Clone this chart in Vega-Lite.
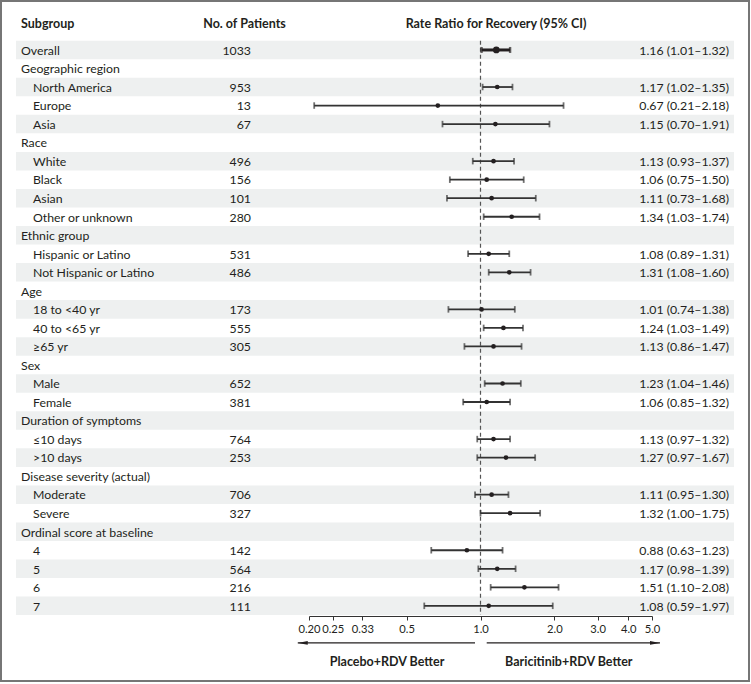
{
  "$schema": "https://vega.github.io/schema/vega-lite/v6.json",
  "background": "#767676",
  "padding": {"left": 2, "top": 2, "right": 2, "bottom": 2},
  "spacing": 0,
  "bounds": "flush",
  "config": {
    "view": {"fill": "white", "stroke": null},
    "text": {"font": "Lato", "fontSize": 12.3, "color": "#231f20"},
    "axis": {"offset": -64, "title": null, "grid": false,
             "labelExpr": "datum.value == 0.2 ? '0.20\u00a0' : datum.value == 0.25 ? '\u00a00.25' : datum.value == 0.33 ? '0.33' : datum.value == 0.5 ? '0.5' : format(datum.value, '.1f')",
             "labelFont": "Lato", "labelFontSize": 11.2, "labelColor": "#231f20", "labelPadding": 3,
             "domainColor": "#333333", "tickColor": "#333333", "tickSize": 4, "domainWidth": 1, "tickWidth": 1,
             "labelFlush": false, "labelOverlap": false}
  },
  "datasets": {
    "rows": [
      {"i": 0, "label": "Overall", "level": 0, "n": 1033, "est": 1.16, "lo": 1.01, "hi": 1.32, "ci": "1.16 (1.01–1.32)"},
      {"i": 1, "label": "Geographic region", "level": 0},
      {"i": 2, "label": "North America", "level": 1, "n": 953, "est": 1.17, "lo": 1.02, "hi": 1.35, "ci": "1.17 (1.02–1.35)"},
      {"i": 3, "label": "Europe", "level": 1, "n": 13, "est": 0.67, "lo": 0.21, "hi": 2.18, "ci": "0.67 (0.21–2.18)"},
      {"i": 4, "label": "Asia", "level": 1, "n": 67, "est": 1.15, "lo": 0.70, "hi": 1.91, "ci": "1.15 (0.70–1.91)"},
      {"i": 5, "label": "Race", "level": 0},
      {"i": 6, "label": "White", "level": 1, "n": 496, "est": 1.13, "lo": 0.93, "hi": 1.37, "ci": "1.13 (0.93–1.37)"},
      {"i": 7, "label": "Black", "level": 1, "n": 156, "est": 1.06, "lo": 0.75, "hi": 1.50, "ci": "1.06 (0.75–1.50)"},
      {"i": 8, "label": "Asian", "level": 1, "n": 101, "est": 1.11, "lo": 0.73, "hi": 1.68, "ci": "1.11 (0.73–1.68)"},
      {"i": 9, "label": "Other or unknown", "level": 1, "n": 280, "est": 1.34, "lo": 1.03, "hi": 1.74, "ci": "1.34 (1.03–1.74)"},
      {"i": 10, "label": "Ethnic group", "level": 0},
      {"i": 11, "label": "Hispanic or Latino", "level": 1, "n": 531, "est": 1.08, "lo": 0.89, "hi": 1.31, "ci": "1.08 (0.89–1.31)"},
      {"i": 12, "label": "Not Hispanic or Latino", "level": 1, "n": 486, "est": 1.31, "lo": 1.08, "hi": 1.60, "ci": "1.31 (1.08–1.60)"},
      {"i": 13, "label": "Age", "level": 0},
      {"i": 14, "label": "18 to <40 yr", "level": 1, "n": 173, "est": 1.01, "lo": 0.74, "hi": 1.38, "ci": "1.01 (0.74–1.38)"},
      {"i": 15, "label": "40 to <65 yr", "level": 1, "n": 555, "est": 1.24, "lo": 1.03, "hi": 1.49, "ci": "1.24 (1.03–1.49)"},
      {"i": 16, "label": "≥65 yr", "level": 1, "n": 305, "est": 1.13, "lo": 0.86, "hi": 1.47, "ci": "1.13 (0.86–1.47)"},
      {"i": 17, "label": "Sex", "level": 0},
      {"i": 18, "label": "Male", "level": 1, "n": 652, "est": 1.23, "lo": 1.04, "hi": 1.46, "ci": "1.23 (1.04–1.46)"},
      {"i": 19, "label": "Female", "level": 1, "n": 381, "est": 1.06, "lo": 0.85, "hi": 1.32, "ci": "1.06 (0.85–1.32)"},
      {"i": 20, "label": "Duration of symptoms", "level": 0},
      {"i": 21, "label": "≤10 days", "level": 1, "n": 764, "est": 1.13, "lo": 0.97, "hi": 1.32, "ci": "1.13 (0.97–1.32)"},
      {"i": 22, "label": ">10 days", "level": 1, "n": 253, "est": 1.27, "lo": 0.97, "hi": 1.67, "ci": "1.27 (0.97–1.67)"},
      {"i": 23, "label": "Disease severity (actual)", "level": 0},
      {"i": 24, "label": "Moderate", "level": 1, "n": 706, "est": 1.11, "lo": 0.95, "hi": 1.30, "ci": "1.11 (0.95–1.30)"},
      {"i": 25, "label": "Severe", "level": 1, "n": 327, "est": 1.32, "lo": 1.00, "hi": 1.75, "ci": "1.32 (1.00–1.75)"},
      {"i": 26, "label": "Ordinal score at baseline", "level": 0},
      {"i": 27, "label": "4", "level": 1, "n": 142, "est": 0.88, "lo": 0.63, "hi": 1.23, "ci": "0.88 (0.63–1.23)"},
      {"i": 28, "label": "5", "level": 1, "n": 564, "est": 1.17, "lo": 0.98, "hi": 1.39, "ci": "1.17 (0.98–1.39)"},
      {"i": 29, "label": "6", "level": 1, "n": 216, "est": 1.51, "lo": 1.10, "hi": 2.08, "ci": "1.51 (1.10–2.08)"},
      {"i": 30, "label": "7", "level": 1, "n": 111, "est": 1.08, "lo": 0.59, "hi": 1.97, "ci": "1.08 (0.59–1.97)"}
    ],
    "directions": [
      {"label": "Placebo+RDV Better", "start": 0.95, "end": 0.18, "labelAt": 0.416, "side": "left"},
      {"label": "Baricitinib+RDV Better", "start": 1.06, "end": 5.39, "labelAt": 2.29, "side": "right"}
    ]
  },
  "hconcat": [
    {
      "width": 14, "height": 678,
      "data": {"values": [{}]},
      "mark": {"type": "rect", "color": "white"},
      "encoding": {}
    },
    {
      "width": 179, "height": 678,
      "data": {"name": "rows"},
      "encoding": {
        "y": {"field": "i", "type": "ordinal", "axis": null,
              "scale": {"type": "band", "domain": [-2,-1,0,1,2,3,4,5,6,7,8,9,10,11,12,13,14,15,16,17,18,19,20,21,22,23,24,25,26,27,28,29,30,31,32,33], "range": [1.64, 668.7], "paddingInner": 0, "paddingOuter": 0}}
      },
      "layer": [
        {"transform": [{"filter": "datum.i % 2 == 0"}], "mark": {"type": "rect", "color": "#eef0f0"}},
        {"transform": [{"filter": "datum.level == 0"}],
         "mark": {"type": "text", "align": "left", "baseline": "middle", "dx": 5, "dy": 0.8},
         "encoding": {"x": {"datum": 0, "type": "quantitative", "scale": {"domain": [0, 1]}, "axis": null}, "text": {"field": "label"}}},
        {"transform": [{"filter": "datum.level == 1"}],
         "mark": {"type": "text", "align": "left", "baseline": "middle", "dx": 17, "dy": 0.8},
         "encoding": {"x": {"datum": 0, "type": "quantitative", "scale": {"domain": [0, 1]}, "axis": null}, "text": {"field": "label"}}},
        {"data": {"values": [{"h": "Subgroup"}]},
         "mark": {"type": "text", "align": "left", "baseline": "middle", "dx": 5, "dy": 1.5, "fontWeight": "bold", "fontSize": 12.5},
         "encoding": {
           "x": {"datum": 0, "type": "quantitative", "scale": {"domain": [0, 1]}, "axis": null},
           "y": {"datum": -1, "type": "ordinal", "bandPosition": 0, "axis": null,
                 "scale": {"type": "band", "domain": [-2,-1,0,1,2,3,4,5,6,7,8,9,10,11,12,13,14,15,16,17,18,19,20,21,22,23,24,25,26,27,28,29,30,31,32,33], "range": [1.64, 668.7], "paddingInner": 0, "paddingOuter": 0}},
           "text": {"field": "h"}}}
      ]
    },
    {
      "width": 99, "height": 678,
      "data": {"name": "rows"},
      "encoding": {
        "y": {"field": "i", "type": "ordinal", "axis": null,
              "scale": {"type": "band", "domain": [-2,-1,0,1,2,3,4,5,6,7,8,9,10,11,12,13,14,15,16,17,18,19,20,21,22,23,24,25,26,27,28,29,30,31,32,33], "range": [1.64, 668.7], "paddingInner": 0, "paddingOuter": 0}}
      },
      "layer": [
        {"transform": [{"filter": "datum.i % 2 == 0"}], "mark": {"type": "rect", "color": "#eef0f0"}},
        {"transform": [{"filter": "isValid(datum.n)"}],
         "mark": {"type": "text", "align": "right", "baseline": "middle", "dx": 6.5, "dy": 0.8},
         "encoding": {"text": {"field": "n"}}},
        {"data": {"values": [{"h": "No. of Patients"}]},
         "mark": {"type": "text", "align": "center", "baseline": "middle", "dy": 1.5, "fontWeight": "bold", "fontSize": 12.5},
         "encoding": {
           "y": {"datum": -1, "type": "ordinal", "bandPosition": 0, "axis": null,
                 "scale": {"type": "band", "domain": [-2,-1,0,1,2,3,4,5,6,7,8,9,10,11,12,13,14,15,16,17,18,19,20,21,22,23,24,25,26,27,28,29,30,31,32,33], "range": [1.64, 668.7], "paddingInner": 0, "paddingOuter": 0}},
           "text": {"field": "h"}}}
      ]
    },
    {
      "width": 368, "height": 678,
      "data": {"name": "rows"},
      "encoding": {
        "y": {"field": "i", "type": "ordinal", "axis": null,
              "scale": {"type": "band", "domain": [-2,-1,0,1,2,3,4,5,6,7,8,9,10,11,12,13,14,15,16,17,18,19,20,21,22,23,24,25,26,27,28,29,30,31,32,33], "range": [1.64, 668.7], "paddingInner": 0, "paddingOuter": 0}}
      },
      "layer": [
        {"transform": [{"filter": "datum.i % 2 == 0"}], "mark": {"type": "rect", "color": "#eef0f0"}},
        {"data": {"values": [{"ref": 1}]},
         "mark": {"type": "rule", "strokeDash": [4, 3], "color": "#555555", "strokeWidth": 1.2},
         "encoding": {
           "x": {"field": "ref", "type": "quantitative", "scale": {"type": "log", "domain": [0.2, 5], "range": [15, 358], "nice": false}, "axis": {"values": [0.2, 0.25, 0.33, 0.5, 1, 2, 3, 4, 5]}},
           "y": {"datum": 0, "type": "ordinal", "bandPosition": 0},
           "y2": {"datum": 30, "bandPosition": 1}}},
        {"transform": [{"filter": "isValid(datum.lo) && datum.i > 0"}],
         "mark": {"type": "rule", "color": "#333333", "strokeWidth": 1.8},
         "encoding": {
           "x": {"field": "lo", "type": "quantitative", "scale": {"type": "log", "domain": [0.2, 5], "range": [15, 358], "nice": false}, "axis": {"values": [0.2, 0.25, 0.33, 0.5, 1, 2, 3, 4, 5]}},
           "x2": {"field": "hi"}}},
        {"transform": [{"filter": "datum.i == 0"}],
         "mark": {"type": "rule", "color": "#231f20", "strokeWidth": 3},
         "encoding": {
           "x": {"field": "lo", "type": "quantitative", "scale": {"type": "log", "domain": [0.2, 5], "range": [15, 358], "nice": false}, "axis": {"values": [0.2, 0.25, 0.33, 0.5, 1, 2, 3, 4, 5]}},
           "x2": {"field": "hi"}}},
        {"transform": [{"filter": "isValid(datum.lo) && datum.i > 0"}],
         "mark": {"type": "tick", "color": "#333333", "size": 6.5, "thickness": 1.8},
         "encoding": {"x": {"field": "lo", "type": "quantitative", "scale": {"type": "log", "domain": [0.2, 5], "range": [15, 358], "nice": false}, "axis": {"values": [0.2, 0.25, 0.33, 0.5, 1, 2, 3, 4, 5]}}}},
        {"transform": [{"filter": "isValid(datum.hi) && datum.i > 0"}],
         "mark": {"type": "tick", "color": "#333333", "size": 6.5, "thickness": 1.8},
         "encoding": {"x": {"field": "hi", "type": "quantitative", "scale": {"type": "log", "domain": [0.2, 5], "range": [15, 358], "nice": false}, "axis": {"values": [0.2, 0.25, 0.33, 0.5, 1, 2, 3, 4, 5]}}}},
        {"transform": [{"filter": "datum.i == 0"}],
         "mark": {"type": "tick", "color": "#231f20", "size": 6, "thickness": 2.4},
         "encoding": {"x": {"field": "lo", "type": "quantitative", "scale": {"type": "log", "domain": [0.2, 5], "range": [15, 358], "nice": false}, "axis": {"values": [0.2, 0.25, 0.33, 0.5, 1, 2, 3, 4, 5]}}}},
        {"transform": [{"filter": "datum.i == 0"}],
         "mark": {"type": "tick", "color": "#231f20", "size": 6, "thickness": 2.4},
         "encoding": {"x": {"field": "hi", "type": "quantitative", "scale": {"type": "log", "domain": [0.2, 5], "range": [15, 358], "nice": false}, "axis": {"values": [0.2, 0.25, 0.33, 0.5, 1, 2, 3, 4, 5]}}}},
        {"transform": [{"filter": "isValid(datum.est) && datum.i > 0"}],
         "mark": {"type": "circle", "color": "#231f20", "size": 22, "opacity": 1},
         "encoding": {"x": {"field": "est", "type": "quantitative", "scale": {"type": "log", "domain": [0.2, 5], "range": [15, 358], "nice": false}, "axis": {"values": [0.2, 0.25, 0.33, 0.5, 1, 2, 3, 4, 5]}}}},
        {"transform": [{"filter": "datum.i == 0"}],
         "mark": {"type": "circle", "color": "#231f20", "size": 45, "opacity": 1},
         "encoding": {"x": {"field": "est", "type": "quantitative", "scale": {"type": "log", "domain": [0.2, 5], "range": [15, 358], "nice": false}, "axis": {"values": [0.2, 0.25, 0.33, 0.5, 1, 2, 3, 4, 5]}}}},
        {"data": {"name": "directions"},
         "mark": {"type": "rule", "color": "#231f20", "strokeWidth": 1.2},
         "encoding": {
           "x": {"field": "start", "type": "quantitative", "scale": {"type": "log", "domain": [0.2, 5], "range": [15, 358], "nice": false}, "axis": {"values": [0.2, 0.25, 0.33, 0.5, 1, 2, 3, 4, 5]}},
           "x2": {"field": "end"},
           "y": {"datum": 32, "type": "ordinal"}}},
        {"data": {"name": "directions"},
         "mark": {"type": "point", "filled": true, "color": "#231f20", "size": 100, "opacity": 1},
         "encoding": {
           "x": {"field": "end", "type": "quantitative", "scale": {"type": "log", "domain": [0.2, 5], "range": [15, 358], "nice": false}, "axis": {"values": [0.2, 0.25, 0.33, 0.5, 1, 2, 3, 4, 5]}},
           "y": {"datum": 32, "type": "ordinal"},
           "shape": {"field": "side", "type": "nominal", "legend": null,
                     "scale": {"domain": ["left", "right"], "range": ["M 0 0 L 2 -0.38 L 2 0.38 Z", "M 0 0 L -2 -0.38 L -2 0.38 Z"]}}}},
        {"data": {"name": "directions"},
         "mark": {"type": "text", "align": "center", "baseline": "middle", "fontWeight": "bold", "fontSize": 12.5, "dy": 1},
         "encoding": {
           "x": {"field": "labelAt", "type": "quantitative", "scale": {"type": "log", "domain": [0.2, 5], "range": [15, 358], "nice": false}, "axis": {"values": [0.2, 0.25, 0.33, 0.5, 1, 2, 3, 4, 5]}},
           "y": {"datum": 33, "type": "ordinal"},
           "text": {"field": "label"}}},
        {"data": {"values": [{"h": "Rate Ratio for Recovery (95% CI)", "at": 1.157}]},
         "mark": {"type": "text", "align": "center", "baseline": "middle", "fontWeight": "bold", "fontSize": 12.5, "dy": 1.5},
         "encoding": {
           "x": {"field": "at", "type": "quantitative", "scale": {"type": "log", "domain": [0.2, 5], "range": [15, 358], "nice": false}, "axis": {"values": [0.2, 0.25, 0.33, 0.5, 1, 2, 3, 4, 5]}},
           "y": {"datum": -1, "type": "ordinal", "bandPosition": 0},
           "text": {"field": "h"}}}
      ]
    },
    {
      "width": 72, "height": 678,
      "data": {"name": "rows"},
      "encoding": {
        "y": {"field": "i", "type": "ordinal", "axis": null,
              "scale": {"type": "band", "domain": [-2,-1,0,1,2,3,4,5,6,7,8,9,10,11,12,13,14,15,16,17,18,19,20,21,22,23,24,25,26,27,28,29,30,31,32,33], "range": [1.64, 668.7], "paddingInner": 0, "paddingOuter": 0}}
      },
      "layer": [
        {"transform": [{"filter": "datum.i % 2 == 0"}], "mark": {"type": "rect", "color": "#eef0f0"}},
        {"transform": [{"filter": "isValid(datum.ci)"}],
         "mark": {"type": "text", "align": "right", "baseline": "middle", "dx": -5, "dy": 0.8},
         "encoding": {"x": {"datum": 1, "type": "quantitative", "scale": {"domain": [0, 1]}, "axis": null}, "text": {"field": "ci"}}}
      ]
    },
    {
      "width": 14, "height": 678,
      "data": {"values": [{}]},
      "mark": {"type": "rect", "color": "white"},
      "encoding": {}
    }
  ]
}
